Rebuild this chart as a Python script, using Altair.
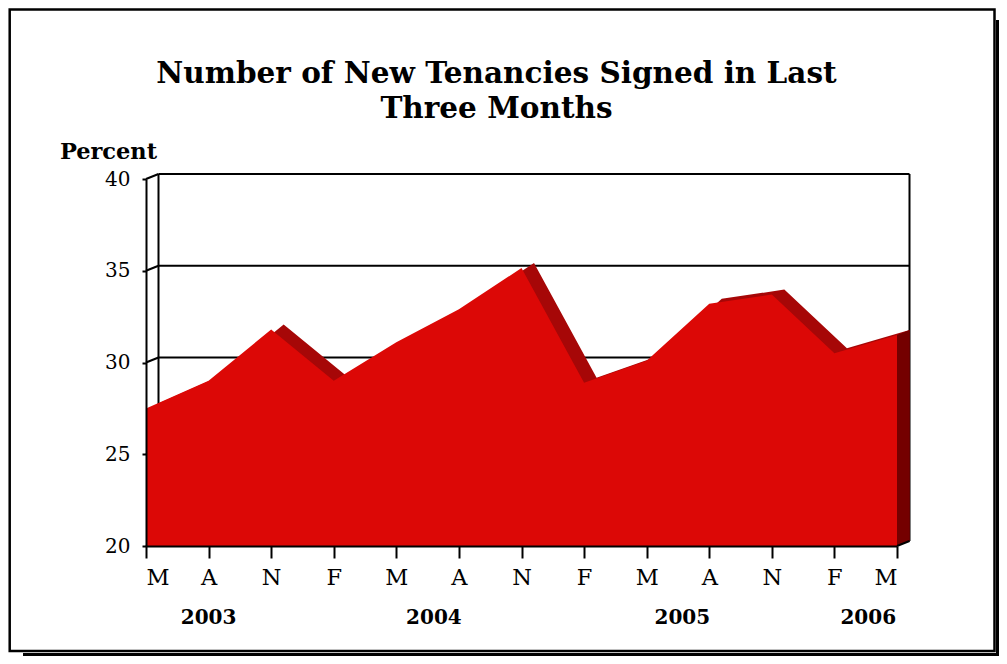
import altair as alt
import pandas as pd

# ---- data ----
months = ["M", "A", "N", "F", "M", "A", "N", "F", "M", "A", "N", "F", "M"]
values = [27.5, 29.0, 31.8, 29.0, 31.1, 32.9, 35.15, 28.9, 30.1, 33.2, 33.7, 30.5, 31.5]
years = ["2003", "2004", "2005", "2006"]
year_at = [1.0, 4.6, 8.57, 11.54]          # x (month index) where each year label sits
y_ticks = [20, 25, 30, 35, 40]
title_lines = ["Number of New Tenancies Signed in Last", "Three Months"]

# ---- layout / style ----
W, H = 751, 367
Y_MIN, Y_MAX = 20, 40
n = len(months)
DX = 12.5 * (n - 1) / W                    # 3-D depth, 12.5 px to the right
DY = 5.0 * (Y_MAX - Y_MIN) / H             # 3-D depth, 5 px up
FRONT, TOP, SIDE = "#DC0806", "#A60707", "#740000"
SERIF = "DejaVu Serif"

xs = alt.Scale(domain=[0, n - 1], nice=False)
ys = alt.Scale(domain=[Y_MIN, Y_MAX], nice=False, zero=False)

df = pd.DataFrame({"i": list(range(n)), "v": values})
df["base"] = Y_MIN
df["ib"] = df["i"] + DX
df["vb"] = df["v"] + DY
df["base_b"] = Y_MIN + DY

side = pd.DataFrame({
    "x": [n - 1, n - 1 + DX],
    "top": [values[-1], values[-1] + DY],
    "bot": [Y_MIN, Y_MIN + DY],
})

# back-wall lines (gridlines on the wall, wall edges) and depth connectors
wall = []
for t in y_ticks:
    wall.append({"x": DX, "x2": n - 1 + DX, "y": t + DY, "y2": t + DY})
    wall.append({"x": 0, "x2": DX, "y": t, "y2": t + DY})
wall.append({"x": DX, "x2": DX, "y": Y_MIN + DY, "y2": Y_MAX + DY})
wall.append({"x": n - 1 + DX, "x2": n - 1 + DX, "y": Y_MIN + DY, "y2": Y_MAX + DY})
wall_df = pd.DataFrame(wall)
corner_df = pd.DataFrame([{"x": n - 1, "x2": n - 1 + DX, "y": Y_MIN, "y2": Y_MIN + DY}])

label_expr = "[" + ",".join('"%s"' % m for m in months) + "][datum.value]"

x_axis = alt.Axis(values=list(range(n)), labelExpr=label_expr, title=None,
                  domainColor="black", domainWidth=2, tickColor="black", tickWidth=2,
                  tickSize=12, labelPadding=8, labelFont=SERIF, labelFontSize=22.5,
                  labelColor="black", grid=False, zindex=1)
y_axis = alt.Axis(values=y_ticks, format="d", title="Percent", titleAngle=0,
                  titleX=-38, titleY=-28, titleAlign="center", titleBaseline="middle",
                  titleFont=SERIF, titleFontSize=22.5, titleFontWeight="bold",
                  titleColor="black", domainColor="black", domainWidth=2,
                  tickColor="black", tickWidth=2, tickSize=4, labelPadding=12,
                  labelFont=SERIF, labelFontSize=20, labelColor="black",
                  grid=False, zindex=1)

one = pd.DataFrame({"k": [0]})

frame_shadow_r = alt.Chart(one).mark_rule(color="black", strokeWidth=3).encode(
    x=alt.value(851.5), y=alt.value(-159), y2=alt.value(477))
frame_shadow_b = alt.Chart(one).mark_rule(color="black", strokeWidth=3).encode(
    x=alt.value(-123), x2=alt.value(853), y=alt.value(475.5))
frame = alt.Chart(one).mark_rect(fill="white", stroke="black", strokeWidth=2.5).encode(
    x=alt.value(-136.3), x2=alt.value(848.5), y=alt.value(-169.5), y2=alt.value(472))

wall_lines = alt.Chart(wall_df).mark_rule(color="black", strokeWidth=2).encode(
    x=alt.X("x:Q", scale=xs, axis=x_axis), x2="x2:Q",
    y=alt.Y("y:Q", scale=ys, axis=y_axis), y2="y2:Q")

back = alt.Chart(df).mark_area(color=TOP).encode(
    x=alt.X("ib:Q", scale=xs), y=alt.Y("vb:Q", scale=ys), y2="base_b:Q")
side_face = alt.Chart(side).mark_area(color=SIDE).encode(
    x=alt.X("x:Q", scale=xs), y=alt.Y("top:Q", scale=ys), y2="bot:Q")
front = alt.Chart(df).mark_area(color=FRONT).encode(
    x=alt.X("i:Q", scale=xs), y=alt.Y("v:Q", scale=ys), y2="base:Q")
corner = alt.Chart(corner_df).mark_rule(color="black", strokeWidth=2).encode(
    x=alt.X("x:Q", scale=xs), x2="x2:Q", y=alt.Y("y:Q", scale=ys), y2="y2:Q")

year_df = pd.DataFrame({"year": years, "at": year_at})
year_text = alt.Chart(year_df).mark_text(
    font=SERIF, fontSize=20, fontWeight="bold", color="black", baseline="middle"
).encode(x=alt.X("at:Q", scale=xs), y=alt.value(439), text="year:N")

title_df = pd.DataFrame({"t": title_lines, "row": [0, 1]})
title_text = alt.Chart(title_df).mark_text(
    font=SERIF, fontSize=29.5, fontWeight="bold", color="black",
    baseline="alphabetic", align="center"
).encode(x=alt.value(350.5),
         y=alt.Y("row:Q", scale=alt.Scale(domain=[0, 1], range=[-95.7, -60.7]), axis=None),
         text="t:N")

chart = alt.layer(
    frame_shadow_r, frame_shadow_b, frame, wall_lines, back, side_face, front,
    corner, year_text, title_text
).resolve_scale(y="independent").properties(
    width=W, height=H,
    autosize=alt.AutoSizeParams(type="none"),
    padding={"left": 138, "top": 171, "right": 102, "bottom": 110},
).configure_view(stroke=None).configure(background="white")

chart.save("out.html", embed_options={"renderer": "svg", "actions": False})
